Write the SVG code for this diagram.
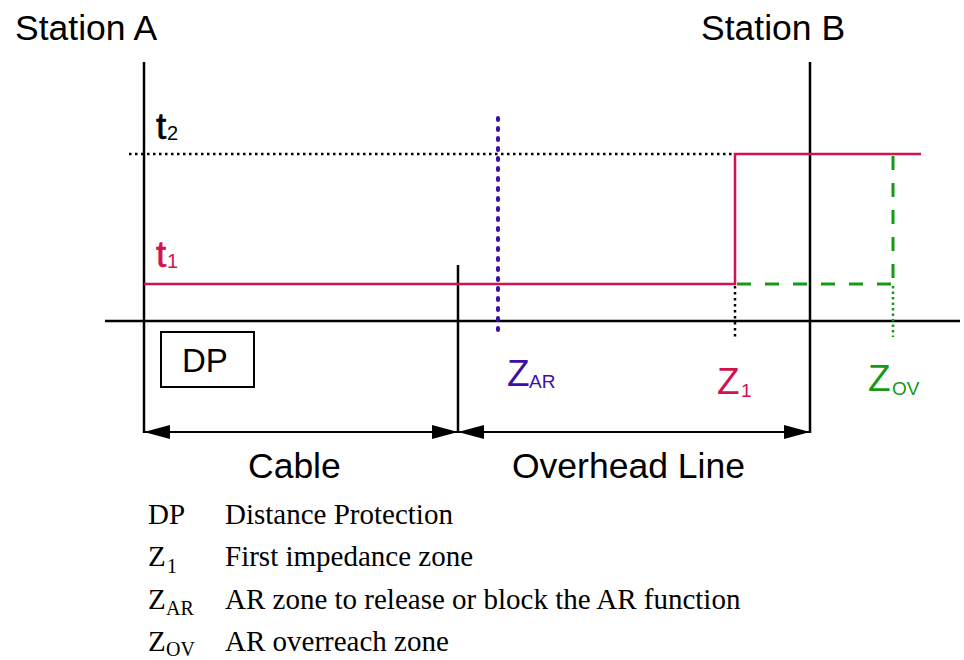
<svg xmlns="http://www.w3.org/2000/svg" width="964" height="660" viewBox="0 0 964 660">
<defs>
<style>
.sans{font-family:"Liberation Sans",Arial,sans-serif;}
.serif{font-family:"Liberation Serif","Times New Roman",serif;fill:#000;}
.blk{stroke:#000;stroke-width:2.5;fill:none;}
.red{stroke:#D2124E;stroke-width:2.5;fill:none;}
.big{font-size:35.5px;fill:#000;}
.lg{font-size:29px;}
.lgs{font-size:20px;}
</style>
<marker id="ah" viewBox="0 0 26 14" refX="26" refY="7" markerWidth="26" markerHeight="14" markerUnits="userSpaceOnUse" orient="auto-start-reverse">
<path d="M0,0 L26,7 L0,14 Z" fill="#000"/>
</marker>
</defs>
<rect width="964" height="660" fill="#fff"/>

<g id="station-a">
<text class="sans big" x="15" y="40">Station A</text>
<line class="blk" x1="144" y1="62" x2="144" y2="433"/>
</g>
<g id="station-b">
<text class="sans big" x="701" y="40">Station B</text>
<line class="blk" x1="810" y1="62" x2="810" y2="433"/>
</g>

<g id="axis">
<line class="blk" x1="105" y1="321" x2="960" y2="321"/>
<line class="blk" x1="458" y1="265" x2="458" y2="433"/>
</g>

<g id="t2">
<text class="sans" x="156" y="139" font-size="37" fill="#000" stroke="#000" stroke-width="0.6">t</text>
<text class="sans" x="167" y="140" font-size="20" fill="#000">2</text>
</g>
<g id="t1">
<text class="sans" x="156" y="267" font-size="37" fill="#D2124E" stroke="#D2124E" stroke-width="0.6">t</text>
<text class="sans" x="167" y="268" font-size="20" fill="#D2124E">1</text>
</g>

<g id="dp">
<rect x="161" y="332" width="93" height="55" fill="none" stroke="#000" stroke-width="2"/>
<text class="sans" x="182" y="372" font-size="33" fill="#000">DP</text>
</g>

<g id="z-ar">
<text class="sans" x="507" y="386" font-size="37" fill="#3D0FA6">Z</text>
<text class="sans" x="529" y="388" font-size="19" fill="#3D0FA6">AR</text>
</g>
<g id="z-1">
<text class="sans" x="717" y="394" font-size="37" fill="#D2124E">Z</text>
<text class="sans" x="741" y="397" font-size="19" fill="#D2124E">1</text>
</g>
<g id="z-ov">
<text class="sans" x="868" y="391" font-size="37" fill="#169A16">Z</text>
<text class="sans" x="892" y="395" font-size="19" fill="#169A16">OV</text>
</g>

<g id="cable-label">
<text class="sans big" x="248" y="478">Cable</text>
</g>
<g id="line-label">
<text class="sans big" x="512" y="478">Overhead Line</text>
</g>

<g id="connectors">
<line x1="129" y1="154" x2="735" y2="154" stroke="#000" stroke-width="2.5" stroke-dasharray="2.5 3.5"/>
<polyline class="red" points="144,284 735,284 735,154 921,154"/>
<line x1="498" y1="118" x2="498" y2="331" stroke="#3D0FA6" stroke-width="4" stroke-linecap="round" stroke-dasharray="2 8"/>
<line x1="735" y1="286" x2="735" y2="337" stroke="#000" stroke-width="2.5" stroke-dasharray="2.5 3.5"/>
<line x1="737" y1="284" x2="893" y2="284" stroke="#169A16" stroke-width="3" stroke-dasharray="14 14"/>
<line x1="893" y1="156" x2="893" y2="284" stroke="#169A16" stroke-width="3" stroke-dasharray="14 13"/>
<line x1="893" y1="286" x2="893" y2="337" stroke="#169A16" stroke-width="2.5" stroke-dasharray="2.5 3"/>
<line x1="144" y1="432" x2="458" y2="432" stroke="#000" stroke-width="2" marker-start="url(#ah)" marker-end="url(#ah)"/>
<line x1="458" y1="432" x2="810" y2="432" stroke="#000" stroke-width="2" marker-start="url(#ah)" marker-end="url(#ah)"/>
</g>

<g id="legend">
<text class="serif lg" x="148" y="524">DP</text>
<text class="serif lg" x="225" y="524">Distance Protection</text>
<text class="serif lg" x="148" y="566">Z</text>
<text class="serif lgs" x="167" y="573">1</text>
<text class="serif lg" x="225" y="566">First impedance zone</text>
<text class="serif lg" x="148" y="609">Z</text>
<text class="serif lgs" x="166" y="615">AR</text>
<text class="serif lg" x="225" y="609">AR zone to release or block the AR function</text>
<text class="serif lg" x="148" y="651">Z</text>
<text class="serif lgs" x="166" y="656">OV</text>
<text class="serif lg" x="225" y="651">AR overreach zone</text>
</g>
</svg>
